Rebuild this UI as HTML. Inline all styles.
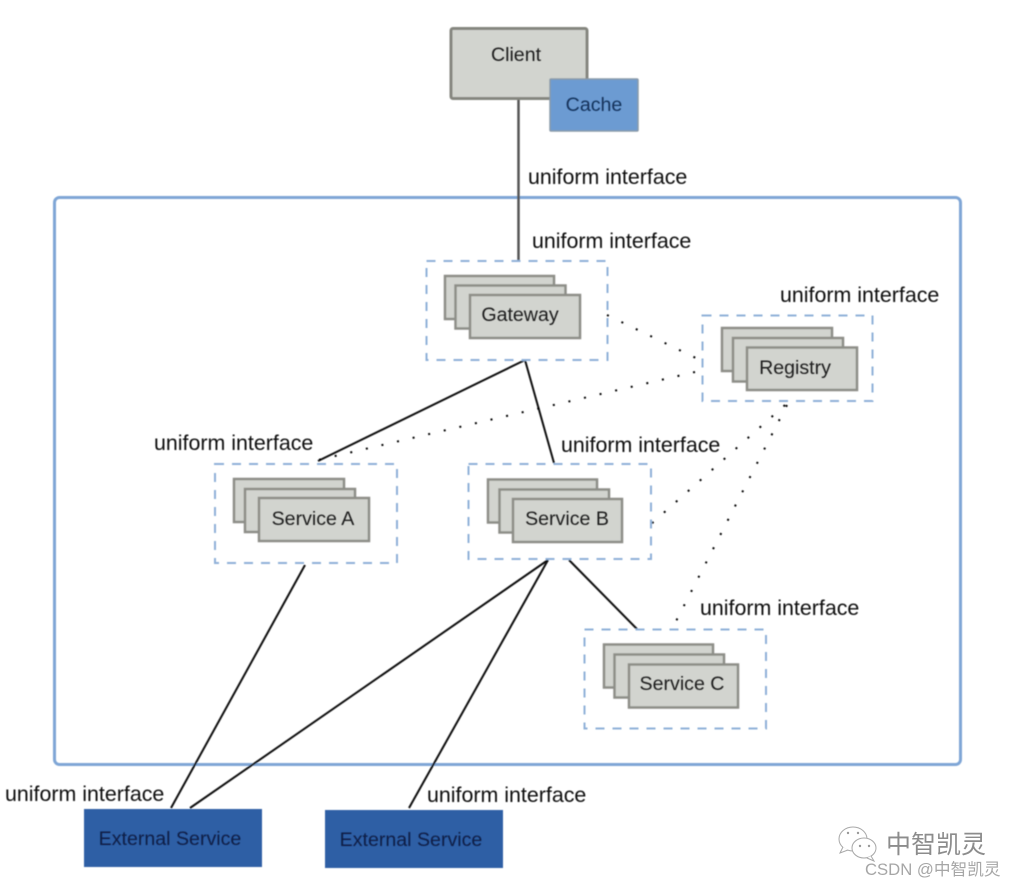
<!DOCTYPE html>
<html>
<head>
<meta charset="utf-8">
<style>
html,body{margin:0;padding:0;background:#fff}
svg{display:block}
text{font-family:"Liberation Sans","Noto Sans CJK SC",sans-serif}
.l{font-size:21.400px;fill:#111}
.n{font-size:19.600px;fill:#1e1e1e;text-anchor:middle}
.c{fill:#d2d4cf;stroke:#8d8e88;stroke-width:2.500}
.d{fill:none;stroke:#8fb0d8;stroke-width:2;stroke-dasharray:9 8}
.s{stroke:#111;stroke-width:2;fill:none}
.o{stroke:#000;stroke-width:2;fill:none;stroke-dasharray:2 14}
</style>
</head>
<body>
<svg width="1017" height="888" viewBox="0 0 1017 888" xmlns="http://www.w3.org/2000/svg">
<defs><filter id="b" x="-5%" y="-5%" width="110%" height="110%"><feGaussianBlur stdDeviation="0.45"/></filter></defs>
<g filter="url(#b)">
<rect x="54.500" y="197.500" width="906" height="567" rx="5" fill="none" stroke="#7fa6d6" stroke-width="3"/>

<line x1="518.500" y1="99" x2="518.500" y2="261" stroke="#555" stroke-width="2.500"/>
<line class="s" x1="525" y1="360" x2="318" y2="461"/>
<line class="s" x1="525" y1="360" x2="554" y2="463"/>
<line class="s" x1="305" y1="565" x2="171" y2="808"/>
<line class="s" x1="548" y1="560" x2="190" y2="808"/>
<line class="s" x1="548" y1="560" x2="409" y2="808"/>
<line class="s" x1="569" y1="560" x2="637" y2="629"/>
<line class="o" x1="607" y1="315" x2="700" y2="360"/>
<line class="o" x1="695" y1="372" x2="318" y2="460"/>
<line class="o" x1="785" y1="405" x2="650" y2="525"/>
<line class="o" x1="787" y1="405" x2="672" y2="629"/>

<rect x="451" y="28.500" width="136" height="70" rx="2" fill="#d2d4cf" stroke="#85867f" stroke-width="3"/>
<rect x="550" y="79" width="88" height="52" rx="1" fill="#6c9bd2" stroke="#8a9aa8" stroke-width="1.500"/>

<rect class="d" x="426.500" y="261" width="181" height="99"/>
<rect class="c" x="445" y="276" width="109" height="43"/>
<rect class="c" x="455.500" y="285.500" width="110" height="43"/>
<rect class="c" x="470" y="295" width="110" height="43"/>

<rect class="d" x="702.500" y="315.500" width="170" height="85.500"/>
<rect class="c" x="722" y="328" width="110" height="43"/>
<rect class="c" x="733" y="338" width="110" height="43.500"/>
<rect class="c" x="747" y="347.500" width="110" height="42.500"/>

<rect class="d" x="215" y="464" width="182" height="99"/>
<rect class="c" x="234" y="479" width="110" height="43"/>
<rect class="c" x="245" y="489" width="110" height="43"/>
<rect class="c" x="259" y="498" width="110" height="43"/>

<rect class="d" x="468.500" y="464" width="182.500" height="95"/>
<rect class="c" x="488" y="479.500" width="109" height="43"/>
<rect class="c" x="499.500" y="489.500" width="109.500" height="43"/>
<rect class="c" x="513" y="499" width="109" height="43"/>

<rect class="d" x="584.500" y="629.500" width="181.500" height="99"/>
<rect class="c" x="604" y="644.500" width="109" height="43"/>
<rect class="c" x="614.500" y="654.500" width="109.500" height="43"/>
<rect class="c" x="629" y="664.500" width="109" height="43"/>

<rect x="84" y="809" width="178" height="58" fill="#2f5fa5"/>
<rect x="325" y="810" width="178" height="58" fill="#2f5fa5"/>
</g>

<g filter="url(#b)">
<text class="n" x="516" y="61">Client</text>
<text class="n" x="594" y="111" style="fill:#12305a">Cache</text>
<text class="n" x="520" y="321">Gateway</text>
<text class="n" x="795" y="374">Registry</text>
<text class="n" x="313" y="525">Service A</text>
<text class="n" x="567" y="525">Service B</text>
<text class="n" x="682" y="690">Service C</text>
<text class="n" x="170" y="845" style="fill:#0c1f45">External Service</text>
<text class="n" x="411" y="846" style="fill:#0c1f45">External Service</text>

<text class="l" x="528" y="184">uniform interface</text>
<text class="l" x="532" y="248">uniform interface</text>
<text class="l" x="780" y="302">uniform interface</text>
<text class="l" x="154" y="450">uniform interface</text>
<text class="l" x="561" y="452">uniform interface</text>
<text class="l" x="700" y="615">uniform interface</text>
<text class="l" x="5" y="801">uniform interface</text>
<text class="l" x="427" y="802">uniform interface</text>
</g>

<g fill="#fff" stroke="#a8a8a8" stroke-width="1">
<ellipse cx="853" cy="839" rx="14" ry="12"/>
<path d="M843 847l-3 6 8-3" />
<ellipse cx="864" cy="848" rx="12" ry="10"/>
<path d="M871 856l3 5-7-3"/>
</g>
<g fill="#999"><circle cx="848" cy="833" r="1.200"/><circle cx="858" cy="833" r="1.200"/><circle cx="860" cy="846" r="1.200"/><circle cx="869" cy="846" r="1.200"/></g>
<text x="886" y="853" font-size="25" fill="#8c8c8c">中智凯灵</text>
<text x="865" y="875" font-size="16.700" fill="#a6a6a6">CSDN @中智凯灵</text>
</svg>
</body>
</html>
